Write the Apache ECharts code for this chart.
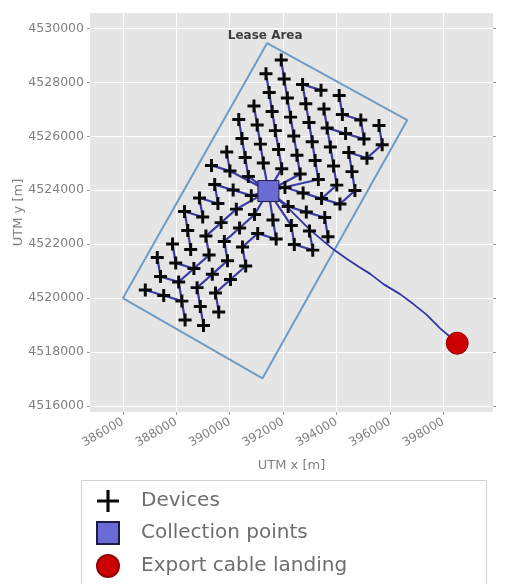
<!DOCTYPE html>
<html><head><meta charset="utf-8">
<script src="https://cdn.jsdelivr.net/npm/echarts@6/dist/echarts.min.js"></script>
<style>html,body{margin:0;padding:0;background:#fff}#c{width:507px;height:584px}</style>
</head><body><div id="c"></div>
<script>
// ---- axis ranges and tick labels ----
const xRange = [384770, 399860];
const yRange = [4515780, 4530570];
const xTicks = [386000, 388000, 390000, 392000, 394000, 396000, 398000];
const yTicks = [4516000, 4518000, 4520000, 4522000, 4524000, 4526000, 4528000, 4530000];

// ---- lease area outline (closed polygon, UTM m) ----
const leaseX = [386000, 391400, 396650, 391230, 386000];
const leaseY = [4520000, 4529450, 4526600, 4517030, 4520000];
const leaseLabelPos = [391330, 4529710];

// ---- collection point and export landing ----
const collectionPoint = [391450, 4523970];
const exportLanding = [398520, 4518330];

// ---- export cable route ----
const exportCableX = [391450, 392260, 393010, 393880, 394380, 394820, 395260, 395760, 396380, 396880, 397380, 397880, 398250, 398520];
const exportCableY = [4523970, 4523270, 4522530, 4521810, 4521460, 4521170, 4520900, 4520520, 4520150, 4519780, 4519380, 4518880, 4518570, 4518330];

// ---- array cable strings: first point = where the string attaches
//      (collection point or an existing device); remaining points = devices ----
const CP = collectionPoint;
const cableStrings = [
  [CP, [391260,4525010], [391150,4525710], [391030,4526420], [390910,4527120]],
  [CP, [391950,4524800], [391830,4525510], [391710,4526210], [391590,4526920], [391480,4527620], [391360,4528320]],
  [CP, [392640,4524600], [392520,4525300], [392400,4526010], [392280,4526710], [392160,4527420], [392040,4528120], [391930,4528830]],
  [CP, [393320,4524400], [393200,4525100], [393090,4525800], [392970,4526510], [392850,4527210], [392730,4527920], [393420,4527710]],
  [CP, [392070,4524100], [392750,4523900], [393440,4523690], [394130,4523490], [394690,4523990], [394580,4524690], [394460,4525400]],
  [[393440,4523690], [394010,4524190], [393890,4524900], [393770,4525600], [393650,4526310], [393530,4527010]],
  [[394460,4525400], [395140,4525190], [395710,4525690], [395590,4526400]],
  [[393650,4526310], [394340,4526100], [395030,4525900], [394910,4526600], [394220,4526810], [394100,4527510]],
  [CP, [390700,4524510], [390580,4525210], [390460,4525920], [390340,4526620]],
  [CP, [390010,4524710], [389890,4525420]],
  [[390010,4524710], [389320,4524920]],
  [CP, [390810,4523800], [390130,4524010], [389440,4524210], [389560,4523510], [388870,4523710], [388990,4523010], [388310,4523210], [388430,4522510], [388540,4521800]],
  [CP, [391620,4522900], [391740,4522190], [391050,4522400], [390480,4521900], [390600,4521190], [390030,4520690], [389470,4520190], [389590,4519490]],
  [CP, [390930,4523100], [390370,4522600], [389800,4522100], [389920,4521390], [389350,4520890], [388780,4520390], [388900,4519690], [389020,4518990]],
  [CP, [390250,4523300], [389680,4522800], [389110,4522300], [389230,4521600], [388660,4521100], [388090,4520600], [388210,4519890], [388330,4519190]],
  [[388660,4521100], [387980,4521300], [387860,4522010]],
  [[388090,4520600], [387410,4520800], [387290,4521510]],
  [[388210,4519890], [387530,4520100], [386840,4520300]],
  [CP, [392190,4523400], [392870,4523190], [393560,4522990], [393680,4522280]],
  [CP, [392310,4522690], [392420,4521990], [393110,4521780], [392990,4522490]]
];

const devices = cableStrings.flatMap(s => s.slice(1));
const plusPath = 'path://M5.4,0H8.6V5.4H14V8.6H8.6V14H5.4V8.6H0V5.4H5.4Z';
const plusLegend = 'path://M6,0H8V6H14V8H8V14H6V8H0V6H6Z';
const FONT = 'DejaVu Sans';
const GREY = '#808080';

const chart = echarts.init(document.getElementById('c'), null, {renderer: 'canvas'});
chart.setOption({
  animation: false,
  backgroundColor: '#fff',
  grid: {left: 90, right: 14, top: 13, bottom: 172, show: true, backgroundColor: '#e5e5e5', borderWidth: 0,
         containLabel: false, outerBoundsMode: 'none'},
  xAxis: {
    type: 'value', min: xRange[0], max: xRange[1], splitNumber: 7,
    axisLine: {show: false},
    axisTick: {show: true, customValues: xTicks, length: 3, lineStyle: {color: '#9a9a9a'}},
    axisLabel: {customValues: xTicks, rotate: 30, margin: 9, color: GREY, fontSize: 12, fontFamily: FONT, formatter: v => String(v)},
    splitLine: {show: true, lineStyle: {color: '#ffffff', width: 1}},
    name: 'UTM x [m]', nameLocation: 'middle', nameGap: 47, nameMoveOverlap: false,
    nameTextStyle: {color: GREY, fontSize: 13, fontFamily: FONT}
  },
  yAxis: [{
    type: 'value', min: yRange[0], max: yRange[1], splitNumber: 7,
    axisLine: {show: false},
    axisTick: {show: true, customValues: yTicks, length: 3, lineStyle: {color: '#9a9a9a'}},
    axisLabel: {customValues: yTicks, margin: 6, color: GREY, fontSize: 12.5, fontFamily: FONT, formatter: v => String(v)},
    splitLine: {show: true, lineStyle: {color: '#ffffff', width: 1}},
    name: 'UTM y [m]', nameLocation: 'middle', nameGap: 65, nameRotate: 90, nameMoveOverlap: false,
    nameTextStyle: {color: GREY, fontSize: 13, fontFamily: FONT}
  }, {
    type: 'value', min: yRange[0], max: yRange[1], position: 'right', splitNumber: 7,
    axisLine: {show: false}, axisLabel: {show: false}, splitLine: {show: false},
    axisTick: {show: true, customValues: yTicks, length: 3, lineStyle: {color: '#9a9a9a'}}
  }],
  legend: {
    orient: 'vertical', left: 96, top: 490, itemWidth: 22, itemHeight: 22, itemGap: 9,
    padding: 0, height: 100,
    selectedMode: false, z: 10,
    textStyle: {fontSize: 20, color: '#6e6e6e', fontFamily: FONT, padding: [0, 0, 0, 17]},
    data: [
      {name: 'Devices', icon: plusLegend},
      {name: 'Collection points', icon: 'rect'},
      {name: 'Export cable landing', icon: 'circle'}
    ]
  },
  graphic: [{
    type: 'rect', left: 81, top: 480, z: 1,
    shape: {width: 405, height: 120},
    style: {fill: '#ffffff', stroke: '#d2d2d2', lineWidth: 1}
  }],
  series: [
    {type: 'line', name: 'lease', data: leaseX.map((x, i) => [x, leaseY[i]]), symbol: 'none',
     lineStyle: {color: '#6f9cc6', width: 2}, silent: true, z: 2},
    {type: 'lines', name: 'cables', coordinateSystem: 'cartesian2d', polyline: true,
     data: cableStrings.map(s => ({coords: s})),
     lineStyle: {color: '#28289a', width: 2.2, opacity: 0.9}, silent: true, z: 3},
    {type: 'line', name: 'export', data: exportCableX.map((x, i) => [x, exportCableY[i]]), symbol: 'none',
     lineStyle: {color: '#3434a4', width: 1.8}, silent: true, z: 3},
    {type: 'scatter', name: 'Devices', data: devices, symbol: plusPath, symbolSize: 13,
     itemStyle: {color: '#0a0a0a', opacity: 1}, z: 4},
    {type: 'scatter', name: 'Collection points', data: [collectionPoint], symbol: 'rect', symbolSize: 21,
     itemStyle: {color: '#6b6bd6', borderColor: '#1c1c44', borderWidth: 1, opacity: 1}, z: 5},
    {type: 'scatter', name: 'Export cable landing', data: [exportLanding], symbol: 'circle', symbolSize: 22,
     itemStyle: {color: '#cc0000', borderColor: '#900000', borderWidth: 1, opacity: 1}, z: 5},
    {type: 'scatter', name: 'leaseLabel', data: [leaseLabelPos], symbolSize: 0, silent: true, z: 6,
     label: {show: true, position: 'inside', formatter: 'Lease Area', fontWeight: 'bold', fontSize: 12, color: '#111', fontFamily: FONT}}
  ]
});
</script></body></html>
